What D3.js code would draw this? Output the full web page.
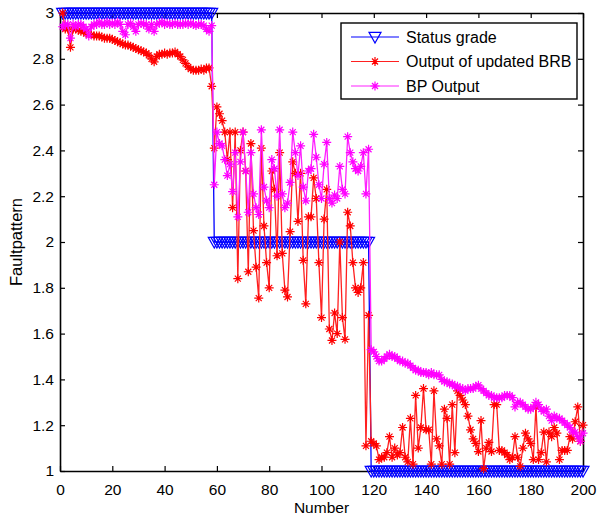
<!DOCTYPE html>
<html>
<head>
<meta charset="utf-8">
<script src="https://cdn.jsdelivr.net/npm/d3@7"></script>
<style>
  body { margin: 0; background: #fff; }
  text { font-family: "Liberation Sans", Arial, sans-serif; }
</style>
</head>
<body>
<div id="chart"></div>
<script>
// sample numbers 1..200
var samples = d3.range(1, 201);

// Status grade (true fault pattern)
var statusGrade = [
  3,3,3,3,3,3,3,3,3,3, 3,3,3,3,3,3,3,3,3,3, 3,3,3,3,3,3,3,3,3,3,
  3,3,3,3,3,3,3,3,3,3, 3,3,3,3,3,3,3,3,3,3, 3,3,3,3,3,3,3,3,
  2,2,2,2,2,2,2,2,2,2, 2,2,2,2,2,2,2,2,2,2, 2,2,2,2,2,2,2,2,2,2,
  2,2,2,2,2,2,2,2,2,2, 2,2,2,2,2,2,2,2,2,2, 2,2,2,2,2,2,2,2,2,2,
  1,1,1,1,1,1,1,1,1,1, 1,1,1,1,1,1,1,1,1,1, 1,1,1,1,1,1,1,1,1,1,
  1,1,1,1,1,1,1,1,1,1, 1,1,1,1,1,1,1,1,1,1, 1,1,1,1,1,1,1,1,1,1,
  1,1,1,1,1,1,1,1,1,1, 1,1,1,1,1,1,1,1,1,1, 1,1
];

// Output of updated BRB
var brbOutput = [
  3.00,2.93,2.93,2.85,2.93,2.93,2.925,2.92,2.92,2.91, 2.91,2.905,2.90,2.90,2.90,2.895,2.89,2.89,2.89,2.885,
  2.88,2.875,2.87,2.865,2.86,2.86,2.855,2.85,2.845,2.84, 2.835,2.83,2.825,2.815,2.80,2.787,2.81,2.82,2.82,2.825,
  2.82,2.825,2.825,2.83,2.82,2.81,2.795,2.78,2.765,2.755, 2.75,2.75,2.75,2.755,2.75,2.76,2.76,2.68,
  2.41,2.59,2.56,2.53,2.48,2.36,2.48,2.15,2.48,1.84, 2.40,2.48,2.31,1.87,2.43,2.05,1.89,1.755,2.41,2.07,
  1.91,1.80,2.31,2.23,1.94,2.39,1.95,1.79,1.76,2.045, 2.35,2.30,2.09,2.30,1.92,1.73,2.11,2.11,2.28,2.19,
  1.91,1.67,2.10,2.23,1.62,1.57,1.69,1.60,2.00,1.67, 1.575,2.13,2.07,1.91,1.80,1.78,1.80,1.91,1.11,1.68,
  1.13,1.12,1.11,1.05,1.06,1.06,1.08,1.15,1.06,1.10, 1.07,1.08,1.19,1.06,1.04,1.23,1.03,1.33,1.10,1.19,
  1.36,1.18,1.18,1.03,1.35,1.14,1.11,1.03,1.27,1.23, 1.03,1.29,1.08,1.35,1.33,1.31,1.29,1.24,1.18,1.14,
  1.12,1.085,1.22,1.01,1.10,1.125,1.085,1.29,1.29,1.09, 1.09,1.08,1.07,1.05,1.06,1.15,1.06,1.02,1.10,1.165,
  1.14,1.12,1.05,1.28,1.05,1.08,1.17,1.04,1.17,1.15, 1.19,1.165,1.05,1.09,1.09,1.09,1.15,1.14,1.215,1.28,
  1.13,1.20
];

// BP Output
var bpOutput = [
  2.94,2.95,2.95,2.89,2.95,2.94,2.95,2.95,2.94,2.93, 2.90,2.94,2.95,2.95,2.96,2.95,2.95,2.96,2.95,2.955,
  2.95,2.96,2.95,2.92,2.905,2.95,2.955,2.94,2.92,2.95, 2.955,2.95,2.95,2.93,2.95,2.92,2.95,2.955,2.96,2.95,
  2.955,2.95,2.95,2.955,2.95,2.95,2.95,2.955,2.95,2.955, 2.95,2.945,2.95,2.95,2.945,2.93,2.92,2.945,
  2.25,2.48,2.43,2.42,2.36,2.29,2.34,2.22,2.39,2.11, 2.35,2.48,2.31,2.13,2.39,2.21,2.15,2.12,2.49,2.24,
  2.18,2.15,2.36,2.32,2.20,2.49,2.21,2.15,2.17,2.26, 2.48,2.39,2.29,2.42,2.24,2.18,2.31,2.32,2.47,2.37,
  2.25,2.19,2.34,2.435,2.19,2.17,2.205,2.19,2.33,2.23, 2.21,2.46,2.39,2.35,2.32,2.31,2.33,2.39,2.21,2.405,
  1.53,1.52,1.50,1.48,1.48,1.49,1.50,1.51,1.50,1.50, 1.49,1.48,1.48,1.47,1.47,1.46,1.45,1.44,1.44,1.43,
  1.43,1.43,1.42,1.43,1.42,1.42,1.42,1.40,1.39,1.39, 1.38,1.38,1.37,1.37,1.36,1.36,1.35,1.36,1.36,1.36,
  1.37,1.375,1.36,1.35,1.34,1.33,1.33,1.32,1.32,1.32, 1.32,1.33,1.33,1.33,1.32,1.28,1.30,1.30,1.29,1.28,
  1.27,1.27,1.28,1.30,1.29,1.27,1.26,1.27,1.24,1.22, 1.24,1.23,1.23,1.22,1.21,1.20,1.19,1.17,1.17,1.15,
  1.13,1.165
];

var xTicks = [0, 20, 40, 60, 80, 100, 120, 140, 160, 180, 200];
var yTicks = [1, 1.2, 1.4, 1.6, 1.8, 2, 2.2, 2.4, 2.6, 2.8, 3];
var seriesNames = ["Status grade", "Output of updated BRB", "BP Output"];

var margin = {top: 13, right: 16, bottom: 45, left: 60},
    width = 599 - margin.left - margin.right,
    height = 516 - margin.top - margin.bottom;

var svg = d3.select("#chart")
  .append("svg")
    .attr("width", 599)
    .attr("height", 516)
  .append("g")
    .attr("transform", "translate(" + margin.left + "," + margin.top + ")");

var x = d3.scaleLinear().domain([0, 200]).range([0, width]);
var y = d3.scaleLinear().domain([1, 3]).range([height, 0]);

// axes, ticks pointing inward like matlab
function styleAxis(g) {
  g.selectAll("path.domain").attr("stroke", "#000").attr("stroke-width", 1.6);
  g.selectAll(".tick line").attr("stroke", "#000").attr("stroke-width", 1.2);
  g.selectAll(".tick text").attr("fill", "#000").style("font-size", "15.5px")
    .style("font-family", '"Liberation Sans", Arial, sans-serif');
}

svg.append("g")
  .attr("transform", "translate(0," + height + ")")
  .call(d3.axisBottom(x).tickValues(xTicks).tickSizeInner(-5).tickSizeOuter(0).tickPadding(13))
  .call(styleAxis);
svg.append("g")
  .call(d3.axisLeft(y).tickValues(yTicks).tickFormat(function(d) { return d; }).tickSizeInner(-5).tickSizeOuter(0).tickPadding(6))
  .call(styleAxis);
svg.append("g")
  .call(d3.axisTop(x).tickValues(xTicks).tickFormat("").tickSizeInner(-5).tickSizeOuter(0))
  .call(styleAxis);
svg.append("g")
  .attr("transform", "translate(" + width + ",0)")
  .call(d3.axisRight(y).tickValues(yTicks).tickFormat("").tickSizeInner(-5).tickSizeOuter(0))
  .call(styleAxis);

// markers
var triPath = "M-6,-4.7L6,-4.7L0,6Z";
var starPath = "M-4.5,0H4.5M0,-4.5V4.5M-3,-3L3,3M-3,3L3,-3";

function drawSeries(values, color, path, lineColor) {
  var pts = samples.map(function(s, i) { return [s, values[i]]; });
  var line = d3.line()
    .x(function(d) { return x(d[0]); })
    .y(function(d) { return y(d[1]); });
  svg.append("path")
    .datum(pts)
    .attr("fill", "none")
    .attr("stroke", lineColor)
    .attr("stroke-width", 1.3)
    .attr("d", line);
  svg.append("g")
    .selectAll("path")
    .data(pts)
    .enter()
    .append("path")
      .attr("transform", function(d) { return "translate(" + x(d[0]) + "," + y(d[1]) + ")"; })
      .attr("d", path)
      .attr("fill", "none")
      .attr("stroke", color)
      .attr("stroke-width", 1.2);
}

drawSeries(statusGrade, "#0000ff", triPath, "#0000ff");
drawSeries(brbOutput, "#ff0000", starPath, "#ff2020");
drawSeries(bpOutput, "#ff00ff", starPath, "#ff22ff");

// axis labels
svg.append("text")
  .attr("x", width / 2)
  .attr("y", height + 42)
  .attr("text-anchor", "middle")
  .style("font-size", "15.5px")
  .text("Number");

svg.append("text")
  .attr("transform", "translate(" + (22 - margin.left) + "," + (height / 2) + ") rotate(-90)")
  .attr("text-anchor", "middle")
  .style("font-size", "16.5px")
  .text("Faultpattern");

// legend
var legend = svg.append("g")
  .attr("transform", "translate(" + (341 - margin.left) + "," + (23 - margin.top) + ")");
legend.append("rect")
  .attr("width", 236)
  .attr("height", 76)
  .attr("fill", "#fff")
  .attr("stroke", "#000")
  .attr("stroke-width", 1.4);

var legendColors = ["#0000ff", "#ff0000", "#ff00ff"];
var legendLines = ["#0000ff", "#ff2020", "#ff22ff"];
var legendPaths = [triPath, starPath, starPath];

var items = legend.selectAll("g.item")
  .data(seriesNames)
  .enter()
  .append("g")
    .attr("class", "item")
    .attr("transform", function(d, i) { return "translate(0," + (14 + i * 24.5) + ")"; });
items.append("line")
  .attr("x1", 10).attr("x2", 58)
  .attr("stroke", function(d, i) { return legendLines[i]; })
  .attr("stroke-width", 1.2);
items.append("path")
  .attr("transform", "translate(34,0)")
  .attr("d", function(d, i) { return legendPaths[i]; })
  .attr("fill", "none")
  .attr("stroke", function(d, i) { return legendColors[i]; })
  .attr("stroke-width", 1.2);
items.append("text")
  .attr("x", 65)
  .attr("dy", "0.36em")
  .style("font-size", "16px")
  .text(function(d) { return d; });
</script>
</body>
</html>
